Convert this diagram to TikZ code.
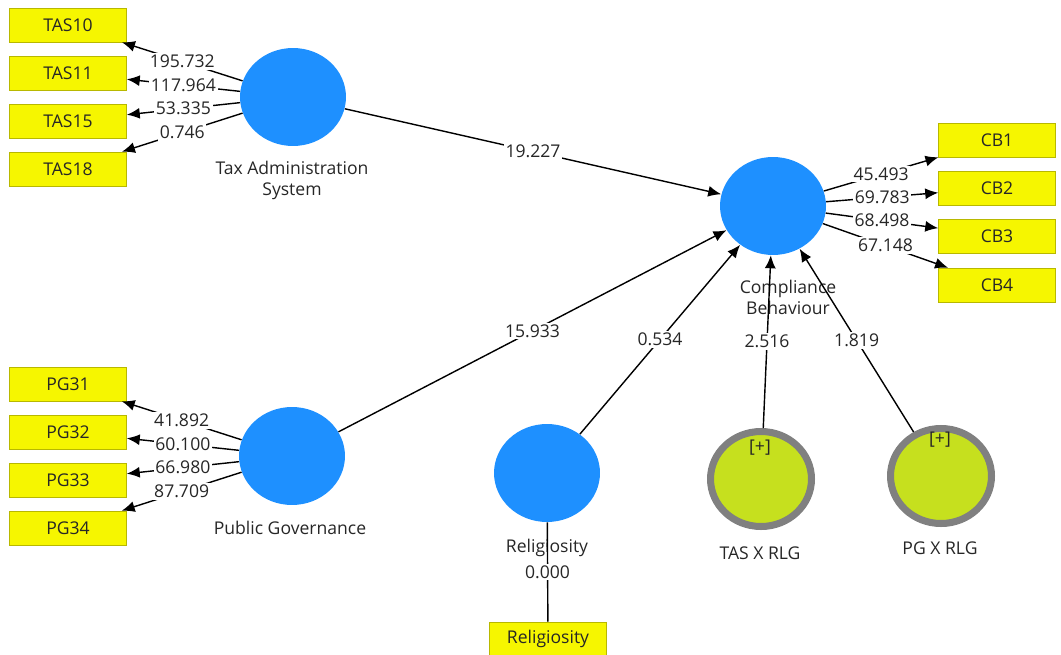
\documentclass[tikz,border=0pt]{standalone}
\usepackage{fontspec}
\setmainfont{Open Sans}
\usepackage{tikz}
\usetikzlibrary{positioning}
\usetikzlibrary{shapes.geometric}
\usetikzlibrary{arrows.meta}
\pgfdeclarelayer{nodelayer}
\pgfdeclarelayer{edgelayer}
\pgfsetlayers{nodelayer,edgelayer,main}
\definecolor{lvblue}{RGB}{30,144,255}
\definecolor{mvyellow}{RGB}{246,246,0}
\definecolor{modgreen}{RGB}{198,224,30}
\definecolor{modgray}{RGB}{128,128,128}
\tikzset{
  latent/.style={ellipse, fill=lvblue, minimum width=2.12cm, minimum height=1.96cm, inner sep=0pt},
  moderator/.style={ellipse, fill=modgreen, draw=modgray, line width=4pt, minimum width=2.02cm, minimum height=1.9cm, inner sep=0pt},
  indicator/.style={rectangle, fill=mvyellow, draw=mvyellow!75!black, line width=0.3pt, minimum width=2.34cm, minimum height=0.68cm, inner sep=0pt},
  weight/.style={fill=white, inner sep=1pt},
  link/.style={line width=0.8pt, -{Latex[length=2.6mm, width=2.2mm]}}
}

\begin{document}
\begin{tikzpicture}[x=0.02cm, y=-0.02cm, font=\fontsize{10}{12}\selectfont, text=black!85]
  \useasboundingbox (0,0) rectangle (1061,655);
  \begin{pgfonlayer}{nodelayer}
    % tax administration system
    \node [indicator] (tas10) at (68,25) {TAS10};
    \node [indicator] (tas11) at (68,73) {TAS11};
    \node [indicator] (tas15) at (68,121) {TAS15};
    \node [indicator] (tas18) at (68,169) {TAS18};
    \node [latent] (tas) at (293,97) {};
    \node [align=center] (taslabel) at (292,180) {Tax Administration\\System};
    % compliance behaviour
    \node [latent] (cb) at (773,206) {};
    \node [align=center] (cblabel) at (788,297) {Compliance\\Behaviour};
    \node [indicator] (cb1) at (997,140) {CB1};
    \node [indicator] (cb2) at (997,188) {CB2};
    \node [indicator] (cb3) at (997,236) {CB3};
    \node [indicator] (cb4) at (997,285) {CB4};
    % public governance
    \node [indicator] (pg31) at (68,384) {PG31};
    \node [indicator] (pg32) at (68,432) {PG32};
    \node [indicator] (pg33) at (68,480) {PG33};
    \node [indicator] (pg34) at (68,528) {PG34};
    \node [latent] (pg) at (292,456) {};
    \node (pglabel) at (290,528) {Public Governance};
    % religiosity
    \node [latent] (rlg) at (547,473) {};
    \node (rlglabel) at (547,548) {Religiosity};
    \node [indicator] (rlg1) at (548,639) {Religiosity};
    % moderators
    \node [moderator] (tasxrlg) at (761,479) {};
    \node (tasplus) at (760,448) {[+]};
    \node (tasxlabel) at (760,553) {TAS X RLG};
    \node [moderator] (pgxrlg) at (941,476) {};
    \node (pgplus) at (940,440) {[+]};
    \node (pgxlabel) at (940,548) {PG X RLG};
  \end{pgfonlayer}
  \begin{pgfonlayer}{edgelayer}
    \draw [link] (tas) -- node [weight] {195.732} (tas10);
    \draw [link] (tas) -- node [weight] {117.964} (tas11);
    \draw [link] (tas) -- node [weight] {53.335} (tas15);
    \draw [link] (tas) -- node [weight] {0.746} (tas18);
    \draw [link] (cb) -- node [weight] {45.493} (cb1);
    \draw [link] (cb) -- node [weight] {69.783} (cb2);
    \draw [link] (cb) -- node [weight] {68.498} (cb3);
    \draw [link] (cb) -- node [weight] {67.148} (cb4);
    \draw [link] (pg) -- node [weight] {41.892} (pg31);
    \draw [link] (pg) -- node [weight] {60.100} (pg32);
    \draw [link] (pg) -- node [weight] {66.980} (pg33);
    \draw [link] (pg) -- node [weight] {87.709} (pg34);
    \draw [line width=0.8pt] (rlg) -- node [weight] {0.000} (rlg1);
    % structural paths
    \draw [link] (tas) -- node [weight] {19.227} (cb);
    \draw [link] (pg) -- node [weight] {15.933} (cb);
    \draw [link] (rlg) -- node [weight] {0.534} (cb);
    \draw [link] (tasxrlg) -- node [weight] {2.516} (cb);
    \draw [link] (pgxrlg) -- node [weight] {1.819} (cb);
  \end{pgfonlayer}
\end{tikzpicture}
\end{document}
